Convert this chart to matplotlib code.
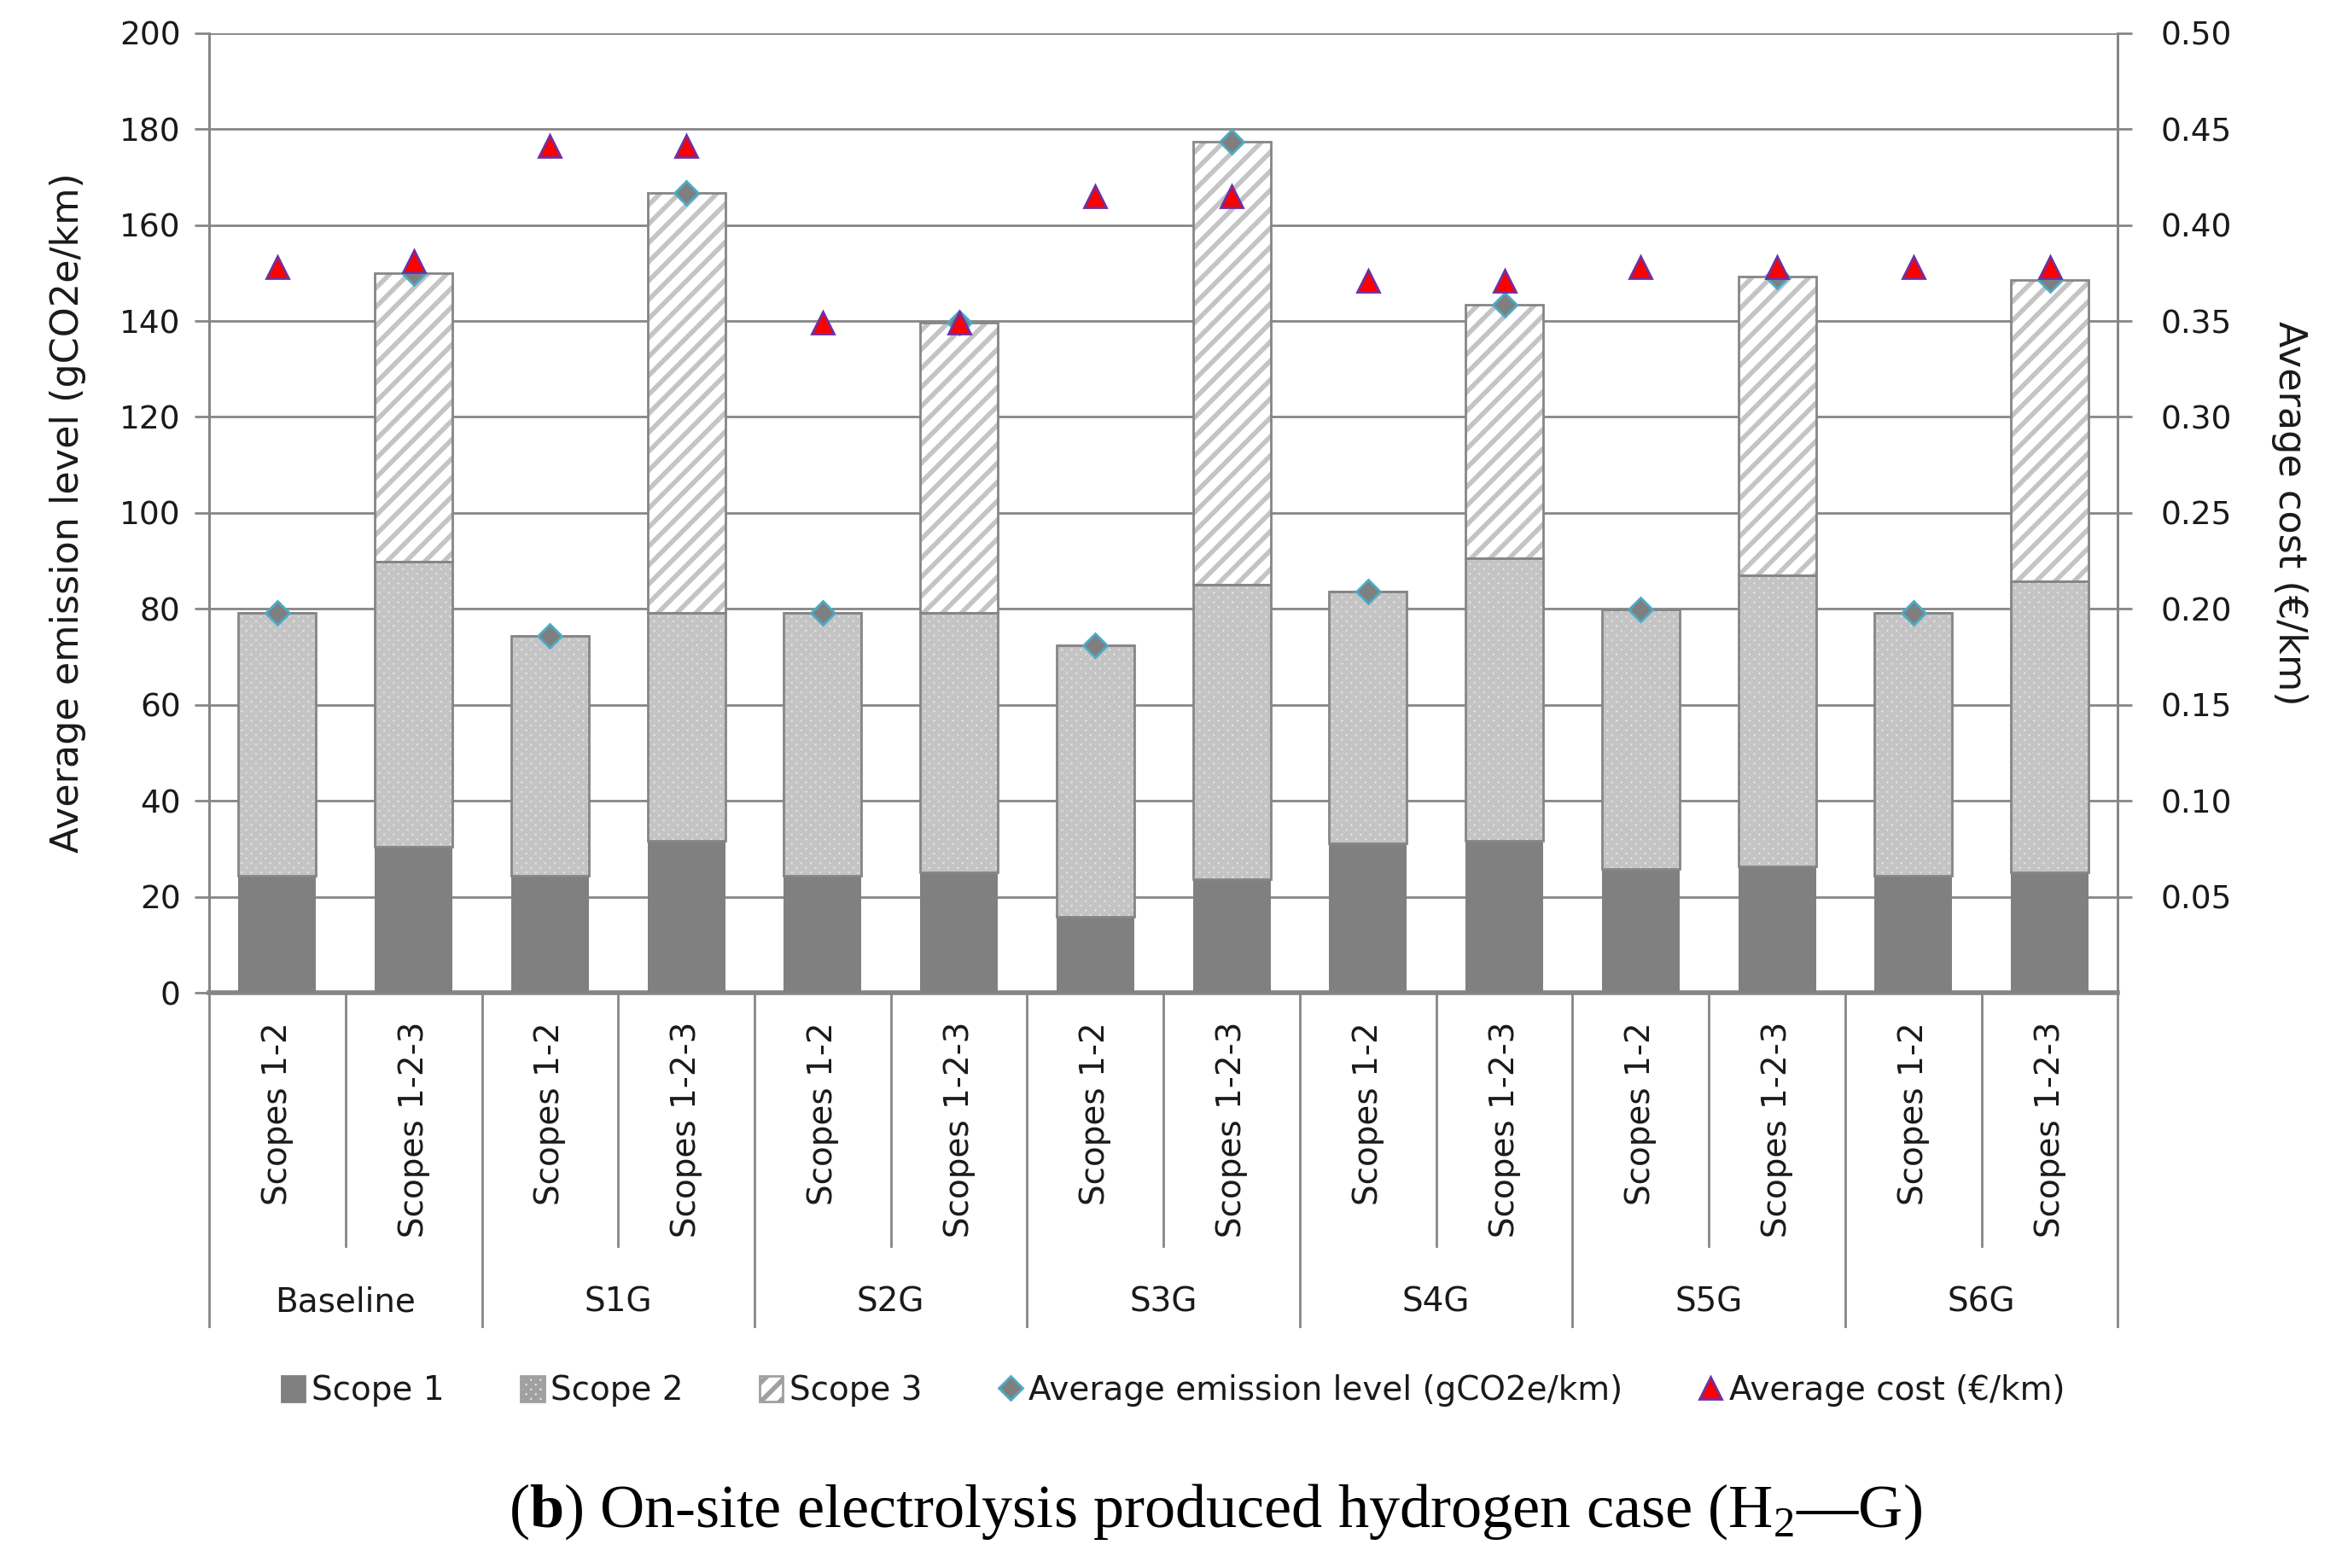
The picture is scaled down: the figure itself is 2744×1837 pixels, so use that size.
import matplotlib
matplotlib.use('Agg')
import matplotlib.pyplot as plt
from matplotlib.patches import Patch
from matplotlib.lines import Line2D
import matplotlib.transforms as mtransforms

groups = ['Baseline', 'S1G', 'S2G', 'S3G', 'S4G', 'S5G', 'S6G']
scope_labels = ['Scopes 1-2', 'Scopes 1-2-3'] * 7
scope1 = [24.4, 30.5, 24.4, 31.8, 24.4, 25.2, 15.9, 23.8, 31.2, 31.8, 25.9, 26.4, 24.5, 25.2]
scope2 = [54.8, 59.3, 50.0, 47.4, 54.8, 54.0, 56.5, 61.2, 52.5, 58.7, 54.0, 60.7, 54.7, 60.5]
scope3 = [0, 60.1, 0, 87.5, 0, 60.5, 0, 92.4, 0, 52.9, 0, 62.2, 0, 62.9]
emission = [79.2, 149.9, 74.4, 166.7, 79.2, 139.7, 72.4, 177.4, 83.7, 143.4, 79.9, 149.3, 79.2, 148.6]
cost = [0.378, 0.381, 0.441, 0.441, 0.349, 0.349, 0.415, 0.415, 0.371, 0.371, 0.378, 0.378, 0.378, 0.378]

plt.rcParams['font.family'] = 'DejaVu Sans'
plt.rcParams['hatch.linewidth'] = 2.0
plt.rcParams['mathtext.fontset'] = 'custom'
plt.rcParams['mathtext.rm'] = 'Liberation Serif'
plt.rcParams['mathtext.bf'] = 'Liberation Serif:bold'

axc = '#868686'
txt = '#1a1a1a'

fig = plt.figure(figsize=(13.72, 9.185), dpi=200)
ax = fig.add_axes([0.0893, 0.3667, 0.815, 0.6123])
ax2 = ax.twinx()

x = list(range(len(scope1)))
w = 0.57
bottom2 = scope1
bottom3 = [a + b for a, b in zip(scope1, scope2)]

ax.bar(x, scope1, w, color='#808080', linewidth=0, zorder=3)
ax.bar(x, scope2, w, bottom=bottom2, color='#e2e2e2', hatch='xxxxxx',
       edgecolor='#c4c4c4', linewidth=0, zorder=3)
ax.bar(x, scope3, w, bottom=bottom3, color='white', hatch='///',
       edgecolor='#c4c4c4', linewidth=0, zorder=3)
# outlines
ax.bar(x, scope2, w, bottom=bottom2, fill=False, edgecolor=axc, linewidth=1.0, zorder=4)
ax.bar(x, scope3, w, bottom=bottom3, fill=False, edgecolor=axc, linewidth=1.0, zorder=4)

ax.plot(x, emission, linestyle='none', marker='D', markersize=7,
        markerfacecolor='#7f7f7f', markeredgecolor='#4bacc6', markeredgewidth=1.0, zorder=6)
ax2.plot(x, cost, linestyle='none', marker='^', markersize=9.5,
         markerfacecolor='#ff0000', markeredgecolor='#7030a0', markeredgewidth=1.0, zorder=6)

ax.set_xlim(-0.5, len(x) - 0.5)
ax.set_ylim(0, 200)
ax.set_yticks(range(0, 201, 20))
ax2.set_ylim(0, 0.5)
ax2.set_yticks([0.05 * i for i in range(1, 11)])
ax2.set_yticklabels(['%.2f' % (0.05 * i) for i in range(1, 11)])

ax.set_zorder(ax2.get_zorder() - 1)
ax.patch.set_visible(True)
ax2.patch.set_visible(False)
ax.grid(axis='y', color=axc, linewidth=1.0, zorder=0)
ax.set_axisbelow(True)

for a in (ax, ax2):
    a.spines['top'].set_visible(False)
    for s in ('left', 'right', 'bottom'):
        a.spines[s].set_color(axc)
        a.spines[s].set_linewidth(1.0)
    a.tick_params(axis='y', direction='out', length=6, width=1.0, color=axc,
                  labelsize=13.5, labelcolor=txt, pad=6)
ax2.tick_params(axis='y', pad=12)
ax.spines['bottom'].set_linewidth(2.0)
ax.set_xticks([])

ax.set_ylabel('Average emission level (gCO2e/km)', fontsize=16, color=txt, labelpad=14)
ax2.set_ylabel('Average cost (€/km)', fontsize=16, color=txt, rotation=-90, labelpad=32)

# category axis below the plot
trans = mtransforms.blended_transform_factory(ax.transData, ax.transAxes)
for i in range(len(x) + 1):
    xp = i - 0.5
    low = -0.347 if i % 2 == 0 else -0.264
    ax.plot([xp, xp], [0, low], color=axc, linewidth=1.0, transform=trans, clip_on=False)
for i, lab in enumerate(scope_labels):
    ax.text(i, -0.03, lab, rotation=90, ha='center', va='top', fontsize=14,
            color=txt, transform=trans)
for g, lab in enumerate(groups):
    ax.text(2 * g + 0.5, -0.322, lab, ha='center', va='center', fontsize=14,
            color=txt, transform=trans)

handles = [
    Patch(facecolor='#808080', edgecolor='#808080', label='Scope 1'),
    Patch(facecolor='#e2e2e2', hatch='xxxxxx', edgecolor='#a0a0a0', label='Scope 2'),
    Patch(facecolor='white', hatch='///', edgecolor='#a0a0a0', label='Scope 3'),
    Line2D([], [], linestyle='none', marker='D', markersize=7, markerfacecolor='#7f7f7f',
           markeredgecolor='#4bacc6', label='Average emission level (gCO2e/km)'),
    Line2D([], [], linestyle='none', marker='^', markersize=9.5, markerfacecolor='#ff0000',
           markeredgecolor='#7030a0', label='Average cost (€/km)'),
]
fig.legend(handles=handles, loc='center', bbox_to_anchor=(0.501, 0.113), ncol=5,
           frameon=False, fontsize=14, handlelength=0.7, handleheight=0.8,
           handletextpad=0.2, columnspacing=2.3, labelcolor=txt)

fig.text(0.519, 0.036, r'($\mathbf{b}$) On-site electrolysis produced hydrogen case (H$_2$—G)',
         ha='center', va='center', fontsize=26, family='Liberation Serif', color='black')

fig.savefig('out.png', dpi=200)
